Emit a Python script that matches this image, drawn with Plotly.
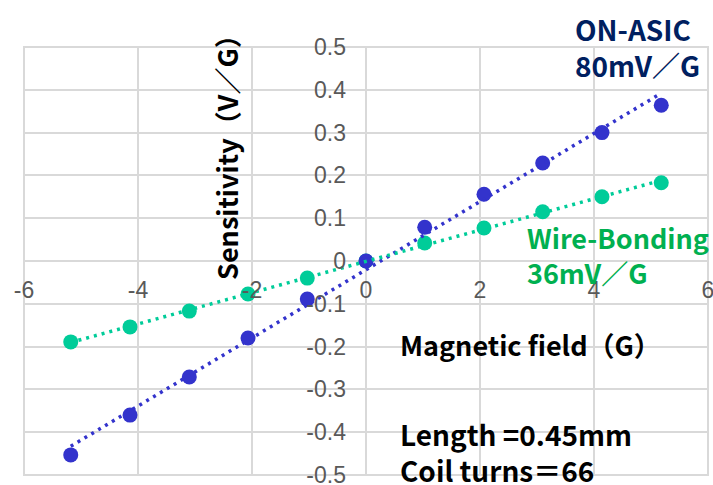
import numpy as np
import plotly.graph_objects as go

# ---- data ----
field_g = [-5.18, -4.14, -3.10, -2.07, -1.03, 0.0, 1.03, 2.07, 3.10, 4.14, 5.18]
on_asic = [-0.453, -0.360, -0.271, -0.180, -0.089, 0.0, 0.079, 0.156, 0.229, 0.300, 0.364]
wire_bonding = [-0.189, -0.154, -0.117, -0.077, -0.040, 0.0, 0.042, 0.077, 0.115, 0.150, 0.183]

x_tickvals = [-6, -4, -2, 0, 2, 4, 6]
x_ticktext = ["-6", "-4", "-2", "0", "2", "4", "6"]
y_tickvals = [-0.5, -0.4, -0.3, -0.2, -0.1, 0.0, 0.1, 0.2, 0.3, 0.4, 0.5]
y_ticktext = ["-0.5", "-0.4", "-0.3", "-0.2", "-0.1", "0", "0.1", "0.2", "0.3", "0.4", "0.5"]

BLUE = "#3333CC"
GREEN = "#00CC99"
CJK = "Noto Sans CJK JP"


def trend(x, y):
    k, b = np.polyfit(x, y, 1)
    xs = np.array([min(x), max(x)])
    return xs, k * xs + b


fig = go.Figure()

fig.add_trace(go.Scatter(x=field_g, y=wire_bonding, mode="markers",
                         marker=dict(color=GREEN, size=15), name="Wire-Bonding"))
fig.add_trace(go.Scatter(x=field_g, y=on_asic, mode="markers",
                         marker=dict(color=BLUE, size=15), name="ON-ASIC"))

tx, ty = trend(field_g, on_asic)
fig.add_trace(go.Scatter(x=tx, y=ty, mode="lines",
                         line=dict(color=BLUE, width=3.5, dash="3px,5px")))
tx, ty = trend(field_g, wire_bonding)
fig.add_trace(go.Scatter(x=tx, y=ty, mode="lines",
                         line=dict(color=GREEN, width=3.5, dash="3px,5px")))

GRID = "#D9D9D9"
ZERO = "#BFBFBF"
tickfont = dict(family="Liberation Sans, Arial, sans-serif", size=23, color="#595959")

fig.update_layout(
    width=713, height=485,
    margin=dict(l=24, r=5, t=47, b=10, autoexpand=False),
    paper_bgcolor="white", plot_bgcolor="white",
    showlegend=False,
    xaxis=dict(range=[-6, 6], tickvals=x_tickvals, ticktext=x_ticktext,
               showgrid=True, gridcolor=GRID, gridwidth=2,
               zeroline=False, showline=False, automargin=False,
               anchor="free", position=0.5, ticklabeloverflow="allow",
               ticks="", ticklabelstandoff=13, tickfont=tickfont),
    yaxis=dict(range=[-0.5, 0.5], tickvals=y_tickvals, ticktext=y_ticktext,
               showgrid=True, gridcolor=GRID, gridwidth=2,
               zeroline=False, showline=False, automargin=False,
               anchor="free", position=0.5, ticklabeloverflow="allow",
               ticks="", ticklabelstandoff=20, tickfont=tickfont),
)

# frame and axis lines through the origin
fig.add_shape(type="rect", xref="x domain", yref="y domain", x0=0, x1=1, y0=0, y1=1,
              line=dict(color=GRID, width=2), layer="below")
fig.add_shape(type="line", xref="x", yref="y domain", x0=0, x1=0, y0=0, y1=1,
              line=dict(color=ZERO, width=2), layer="below")
fig.add_shape(type="line", xref="x domain", yref="y", x0=0, x1=1, y0=0, y1=0,
              line=dict(color=ZERO, width=2), layer="below")

fig.add_annotation(xref="paper", yref="paper", x=0.295, y=0.759, xanchor="center", yanchor="middle",
                   text="<b>Sensitivity（V／G）</b>", textangle=-90, showarrow=False,
                   font=dict(family=CJK, size=27, color="black"))
fig.add_annotation(xref="paper", yref="paper", x=0.74, y=0.304, xanchor="center", yanchor="middle",
                   text="<b>Magnetic field（G）</b>", showarrow=False,
                   font=dict(family=CJK, size=27, color="black"))
fig.add_annotation(xref="paper", yref="paper", x=0.8026, y=1.0, xanchor="left", yanchor="middle",
                   text="<b>ON-ASIC<br>80mV／G</b>", align="left", showarrow=False,
                   font=dict(family=CJK, size=28, color="#002060"))
fig.add_annotation(xref="paper", yref="paper", x=0.7325, y=0.514, xanchor="left", yanchor="middle",
                   text="<b>Wire-Bonding<br>36mV／G</b>", align="left", showarrow=False,
                   font=dict(family=CJK, size=27, color="#00B050"))
fig.add_annotation(xref="paper", yref="paper", x=0.547, y=0.054, xanchor="left", yanchor="middle",
                   text="<b>Length =0.45mm<br>Coil turns＝66</b>", align="left", showarrow=False,
                   font=dict(family=CJK, size=28, color="black"))

fig.write_html("out.html")
